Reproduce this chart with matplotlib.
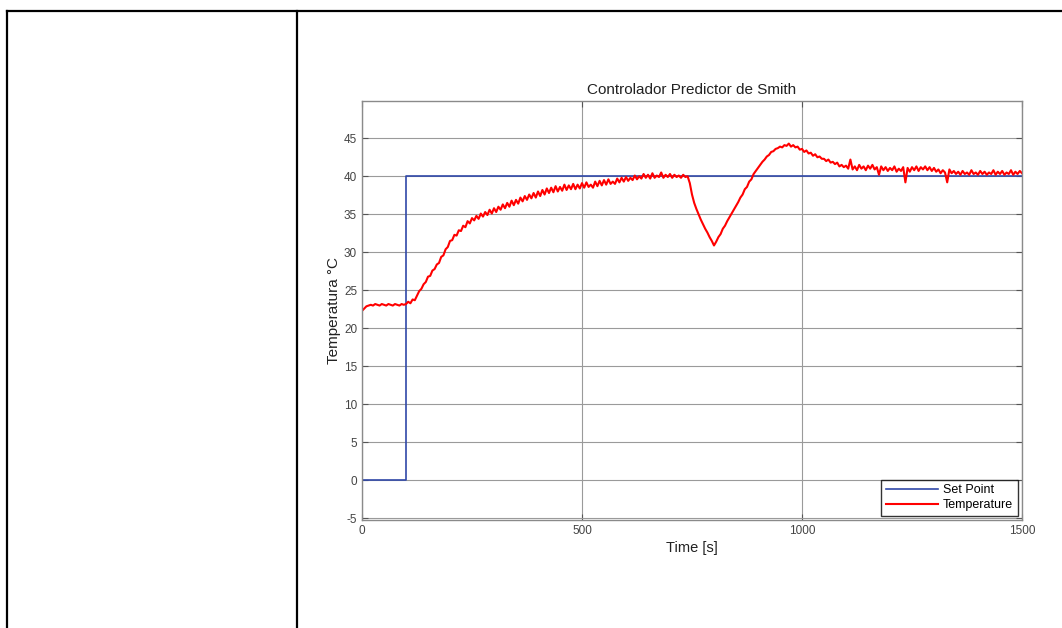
import numpy as np
import matplotlib.pyplot as plt
from matplotlib.lines import Line2D

plt.rcParams['font.family'] = ['Liberation Sans', 'DejaVu Sans']
plt.rcParams['axes.unicode_minus'] = False

# Set point step
sp_time = [0, 100, 100, 1500]
sp_value = [0, 0, 40, 40]

# Measured temperature, one sample every 5 s
temp_time = np.arange(0, 1505, 5)
temp_value = [
    22.3, 22.6, 22.9, 23.0, 23.1, 23.0, 23.2, 23.1, 23.0, 23.2,
    23.1, 23.0, 23.2, 23.1, 23.0, 23.2, 23.1, 23.0, 23.2, 23.1,
    23.2, 23.5, 23.3, 23.8, 23.7, 24.3, 24.9, 25.2, 25.8, 26.1,
    26.8, 26.9, 27.6, 27.8, 28.4, 28.6, 29.4, 29.6, 30.4, 30.7,
    31.5, 31.6, 32.3, 32.2, 32.9, 32.8, 33.5, 33.3, 34.1, 33.8,
    34.5, 34.2, 34.8, 34.4, 35.1, 34.7, 35.3, 34.9, 35.6, 35.1,
    35.8, 35.3, 36.0, 35.6, 36.3, 35.8, 36.5, 36.0, 36.8, 36.2,
    36.9, 36.4, 37.2, 36.7, 37.4, 36.9, 37.6, 37.1, 37.8, 37.2,
    38.0, 37.4, 38.2, 37.6, 38.4, 37.8, 38.5, 37.9, 38.7, 38.0,
    38.6, 38.1, 38.9, 38.2, 38.8, 38.3, 39.0, 38.3, 38.9, 38.4,
    39.1, 38.5, 39.2, 38.6, 38.9, 38.5, 39.3, 38.7, 39.4, 38.8,
    39.5, 38.9, 39.6, 39.0, 39.3, 39.0, 39.7, 39.2, 39.8, 39.3,
    39.9, 39.4, 39.8, 39.5, 40.1, 39.6, 40.0, 39.7, 40.3, 39.8,
    40.2, 39.7, 40.4, 39.8, 40.1, 39.9, 40.5, 39.8, 40.2, 39.9,
    40.3, 39.8, 40.2, 39.9, 40.1, 39.8, 40.2, 39.9, 40.0, 39.1,
    37.6, 36.5, 35.7, 35.0, 34.3, 33.7, 33.1, 32.6, 32.0, 31.5,
    30.9, 31.4, 32.0, 32.4, 33.1, 33.5, 34.1, 34.6, 35.1, 35.6,
    36.1, 36.6, 37.2, 37.6, 38.3, 38.6, 39.3, 39.6, 40.3, 40.7,
    41.1, 41.5, 41.9, 42.2, 42.6, 42.8, 43.2, 43.3, 43.6, 43.7,
    43.9, 43.8, 44.1, 44.0, 44.3, 43.9, 44.1, 43.8, 43.9, 43.5,
    43.6, 43.2, 43.4, 43.0, 43.1, 42.7, 42.9, 42.5, 42.6, 42.3,
    42.3, 42.0, 42.2, 41.8, 41.9, 41.6, 41.8, 41.3, 41.5, 41.2,
    41.4, 41.0, 42.2, 40.9, 41.3, 40.8, 41.5, 41.0, 41.3, 40.8,
    41.4, 41.0, 41.5, 40.9, 41.2, 40.2, 41.3, 40.8, 41.2, 40.7,
    41.1, 40.8, 41.3, 40.6, 41.0, 40.7, 41.2, 39.2, 41.1, 40.6,
    41.2, 40.8, 41.3, 40.7, 41.2, 40.9, 41.3, 40.8, 41.2, 40.7,
    41.1, 40.6, 40.9, 40.4, 40.8, 40.5, 39.2, 40.9, 40.4, 40.7,
    40.3, 40.6, 40.2, 40.7, 40.3, 40.5, 40.2, 40.8, 40.3, 40.5,
    40.2, 40.7, 40.3, 40.6, 40.2, 40.5, 40.3, 40.8, 40.2, 40.6,
    40.3, 40.7, 40.2, 40.5, 40.3, 40.8, 40.2, 40.6, 40.3, 40.7,
    40.4,
]

x_ticks = [0, 500, 1000, 1500]
y_ticks = list(range(-5, 50, 5))

fig = plt.figure(figsize=(10.62, 6.28), dpi=100)

# table frame around the figure
for xs, ys in [([7/1062, 1], [1 - 11/628, 1 - 11/628]),
               ([7/1062, 7/1062], [0, 1 - 11/628]),
               ([296.5/1062, 296.5/1062], [0, 1 - 11/628])]:
    fig.add_artist(Line2D(xs, ys, color='black', lw=1.6, transform=fig.transFigure))

ax = fig.add_axes([362/1062, 1 - 520/628, 660/1062, 419/628])

ax.plot(sp_time, sp_value, color='#3048a8', lw=1.2, label='Set Point')
ax.plot(temp_time, temp_value, color='red', lw=1.5, label='Temperature')

ax.set_xlim(0, 1500)
ax.set_ylim(-5.2, 49.9)
ax.set_xticks(x_ticks)
ax.set_yticks(y_ticks)
ax.grid(True, color='#9a9a9a', lw=0.8)
ax.tick_params(direction='in', top=True, right=True, length=4, width=0.8,
               colors='#555555', labelsize=8.5, labelcolor='#444444')
for s in ax.spines.values():
    s.set_color('#8a8a8a')
    s.set_linewidth(1.0)

ax.set_title('Controlador Predictor de Smith', fontsize=11, color='#222222', pad=5)
ax.set_xlabel('Time [s]', fontsize=10.5, color='#222222', labelpad=3)
ax.set_ylabel('Temperatura °C', fontsize=11, color='#222222', labelpad=2)

leg = ax.legend(loc='lower right', fontsize=9, frameon=True, fancybox=False,
                borderpad=0.35, handlelength=4.2, handletextpad=0.4,
                labelspacing=0.25, borderaxespad=0.35)
leg.get_frame().set_edgecolor('black')
leg.get_frame().set_linewidth(1.0)

fig.savefig('out.png', dpi=100)
